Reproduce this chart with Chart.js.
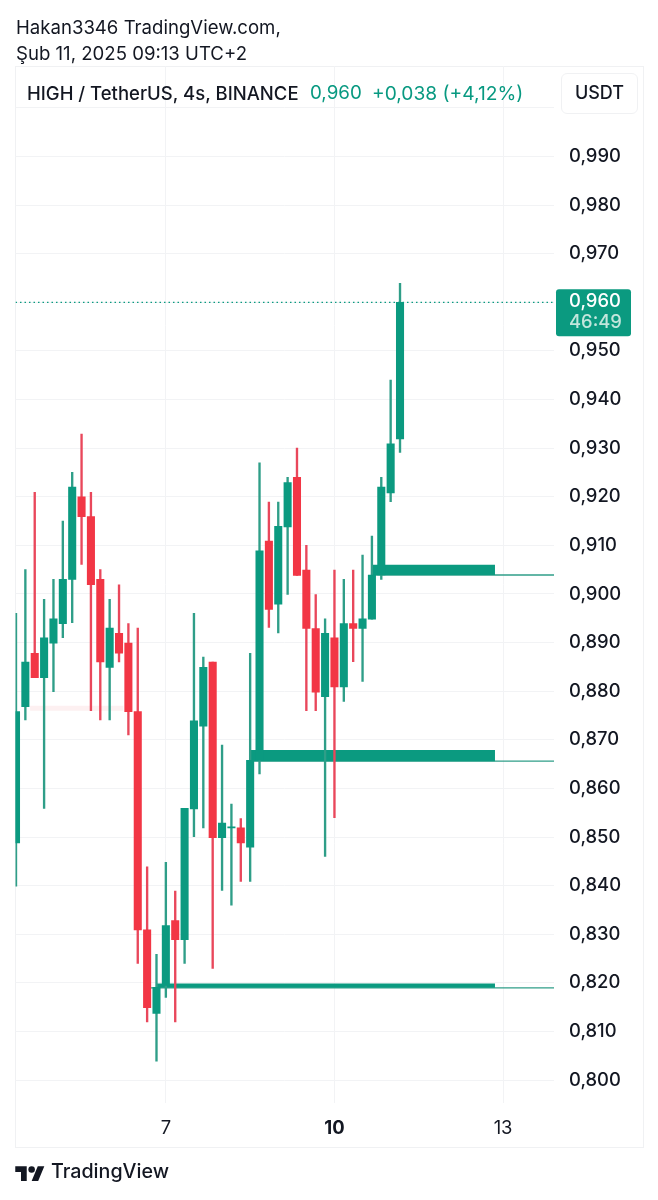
<!DOCTYPE html>
<html lang="tr">
<head>
<meta charset="utf-8">
<title>HIGH / TetherUS</title>
<script src="https://cdn.jsdelivr.net/npm/chart.js@4"></script>
<style>
html,body{margin:0;padding:0;background:#fff;width:658px;height:1200px;overflow:hidden;font-family:Inter,"Noto Sans",sans-serif;color:#131722}
#wrap{position:relative;width:658px;height:1200px}
#frame{position:absolute;left:15px;top:66px;width:627px;height:1080px;border:1px solid #f0f1f3;box-sizing:content-box}
canvas{position:absolute;left:0;top:0}
.t{position:absolute;white-space:pre;line-height:1}
#usdt{position:absolute;left:561px;top:73px;width:75px;height:39px;border:1px solid #f0f1f3;border-radius:6px;background:#fff;text-align:center;line-height:38px;font-size:18px;font-weight:500}
</style>
</head>
<body>
<div id="wrap">
<div id="frame"></div>
<canvas id="c" width="658" height="1200" style="width:658px;height:1200px"></canvas>
<div class="t" style="left:16px;top:18px;font-size:18.6px">Hakan3346 TradingView.com,</div>
<div class="t" style="left:16px;top:44px;font-size:18.6px">Şub 11, 2025 09:13 UTC+2</div>
<div class="t" style="left:27px;top:84px;font-size:18.5px;font-weight:500">HIGH / TetherUS, 4s, BINANCE</div>
<div class="t" style="left:310px;top:84px;font-size:18.8px;color:#089981">0,960</div>
<div class="t" style="left:372px;top:84px;font-size:19.2px;color:#089981">+0,038 (+4,12%)</div>
<div id="usdt">USDT</div>
<svg style="position:absolute;left:15px;top:1163px" width="30" height="18" viewBox="0 0 36 22"><path fill="#131722" d="M14 22H7V11H0V4h14v18zM28 22h-8l7.5-18h8L28 22z"/><circle fill="#131722" cx="20" cy="8" r="4"/></svg>
<div class="t" style="left:51px;top:1162px;font-size:19.7px;font-weight:500">TradingView</div>
</div>
<script>
const opens  = [.8488,.8768,.8878,.8828,.8899,.8939,.9030,.9200,.9159,.9030,.8849,.8919,.8899,.8758,.8309,.8137,.8195,.8328,.8289,.8558,.8728,.8860,.8499,.8519,.8519,.8479,.8658,.9109,.8979,.9138,.9240,.9049,.8929,.8789,.8910,.8809,.8939,.8929,.8948,.9039,.9208,.9319];
const closes = [.8758,.8860,.8828,.8910,.8949,.9030,.9220,.9159,.9019,.8860,.8930,.8878,.8758,.8309,.8149,.8191,.8318,.8289,.8559,.8739,.8849,.8499,.8529,.8521,.8488,.8658,.9089,.8968,.9139,.9229,.9038,.8929,.8798,.8919,.8809,.8939,.8929,.8949,.9039,.9220,.9309,.9600];
const highs  = [.8960,.9050,.9209,.8989,.9030,.9150,.9250,.9329,.9209,.9050,.8989,.9019,.8939,.8930,.8439,.8259,.8448,.8389,.8559,.8960,.8870,.8860,.8689,.8568,.8538,.8878,.9270,.9189,.9189,.9240,.9300,.9100,.8999,.8949,.9049,.9030,.9049,.9080,.9119,.9240,.9440,.9639];
const lows   = [.8399,.8741,.8828,.8559,.8799,.8910,.8941,.9061,.8760,.8741,.8741,.8860,.8710,.8240,.8120,.8039,.8170,.8120,.8240,.8501,.8519,.8230,.8390,.8360,.8409,.8409,.8630,.8931,.8920,.8999,.9038,.8760,.8760,.8460,.8540,.8779,.8861,.8820,.8948,.9030,.9190,.9291];
const dayTicks  = [16,34,52];
const dayLabels = ['7','10','13'];
const boldDay   = '10';
const boxStarts  = [15,25,38];
const boxEnd     = 51.14;
const boxTops    = [.8199,.8679,.9060];
const boxBottoms = [.8190,.8656,.9039];
const rayStarts  = [14.4,25,38];
const lastPrice  = .960;
const countdown  = '46:49';
const xMin = -.053, xMax = 57.44;
const yMin = .7953, yMax = 1.0086;
const UP = '#0b9a80', DOWN = '#f23645', UPW = '#2f9e88', DOWNW = '#e9475b', GRID = '#f2f3f5';
const fmt = v => v.toFixed(3).replace('.', ',');
const idx = opens.map((_, i) => i);

const datasets = [];
datasets.push({type:'line',order:9,data:[{x:1.5,y:.8770},{x:11.5,y:.8770}],fill:{value:.8760},backgroundColor:'#fdf0f1',borderWidth:0,pointRadius:0});
boxStarts.forEach((s, i) => {
  datasets.push({type:'line',order:6,data:[{x:s,y:boxTops[i]},{x:boxEnd,y:boxTops[i]}],fill:{value:boxBottoms[i]},backgroundColor:UP,borderWidth:0,pointRadius:0});
  datasets.push({type:'line',order:7,data:[{x:rayStarts[i],y:boxBottoms[i]},{x:xMax,y:boxBottoms[i]}],fill:false,borderColor:UPW,borderWidth:1.3,pointRadius:0});
});
datasets.push({type:'line',order:8,data:[{x:xMin,y:lastPrice},{x:xMax,y:lastPrice}],fill:false,borderColor:UP,borderWidth:1.3,borderDash:[1.5,3],pointRadius:0});
datasets.push({type:'bar',order:3,grouped:false,barThickness:1.7,
  data:idx.map(i => ({x:i,y:[lows[i],highs[i]]})),
  backgroundColor:idx.map(i => closes[i] >= opens[i] ? UPW : DOWNW)});
datasets.push({type:'bar',order:2,grouped:false,barThickness:7.4,
  data:idx.map(i => ({x:i,y:[opens[i],closes[i]]})),
  backgroundColor:idx.map(i => closes[i] >= opens[i] ? UP : DOWN)});

const badge = {
  id:'badge',
  afterDraw(chart){
    const g = chart.ctx, y = chart.scales.y.getPixelForValue(lastPrice);
    g.save();
    g.fillStyle = UP;
    g.beginPath();
    g.roundRect(556, y-13, 75, 47, 3);
    g.fill();
    g.textAlign = 'left'; g.textBaseline = 'middle';
    g.font = '500 18.4px Inter';
    g.fillStyle = '#ffffff';
    g.fillText(fmt(lastPrice), 569, y-1);
    g.fillStyle = '#c3e6dc';
    g.fillText(countdown, 569, y+20.5);
    g.restore();
  }
};

new Chart(document.getElementById('c'), {
  data:{datasets},
  plugins:[badge],
  options:{
    responsive:false,animation:false,
    layout:{padding:{left:15.5,top:66,right:0,bottom:0}},
    plugins:{legend:{display:false},tooltip:{enabled:false}},
    scales:{
      x:{type:'linear',min:xMin,max:xMax,offset:false,
        afterFit(a){a.height=97},
        afterBuildTicks(a){a.ticks=dayTicks.map(v=>({value:v}))},
        grid:{color:GRID,lineWidth:1,drawTicks:false,offset:false},border:{display:false},
        ticks:{autoSkip:false,maxRotation:0,padding:14,color:'#131722',
          callback:v=>dayLabels[dayTicks.indexOf(v)],
          font:c=>({family:'Inter',size:18.4,weight:(c.tick&&dayLabels[dayTicks.indexOf(c.tick.value)]===boldDay)?'700':'400'})}},
      y:{type:'linear',position:'right',min:yMin,max:yMax,
        afterFit(a){a.width=104},
        grid:{color:GRID,lineWidth:1,drawTicks:false},border:{display:false},
        ticks:{stepSize:.01,includeBounds:false,autoSkip:false,align:'center',crossAlign:'near',padding:15,color:'#131722',
          font:{family:'Inter',size:18.4,weight:'500'},
          callback:v=>(v>.995||Math.abs(v-lastPrice)<.001)?'':fmt(v)}}
    }
  }
});
</script>
</body>
</html>
